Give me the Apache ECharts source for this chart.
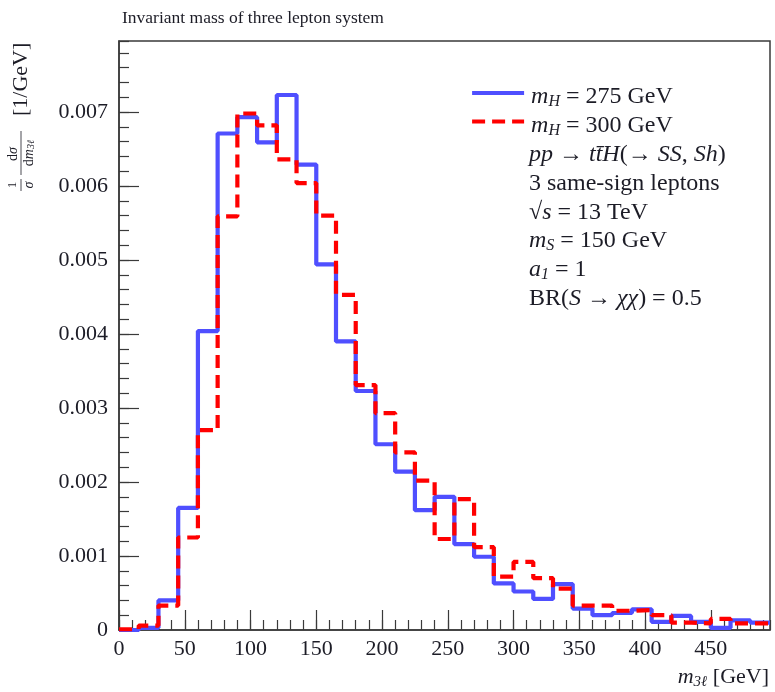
<!DOCTYPE html>
<html><head><meta charset="utf-8">
<script src="https://cdn.jsdelivr.net/npm/echarts@6/dist/echarts.min.js"></script>
<style>html,body{margin:0;padding:0;background:#fff}#c{width:775px;height:692px}</style>
</head><body><div id="c"></div>
<script>
// ---- data ----
const binEdges = [0,15,30,45,60,75,90,105,120,135,150,165,180,195,210,225,240,255,270,285,300,315,330,345,360,375,390,405,420,435,450,465,480,495];
const mH275 = [0.00000,0.00003,0.00040,0.00165,0.00404,0.00671,0.00693,0.00659,0.00723,0.00629,0.00494,0.00390,0.00323,0.00251,0.00214,0.00162,0.00180,0.00116,0.00099,0.00063,0.00052,0.00042,0.00062,0.00029,0.00020,0.00023,0.00028,0.00011,0.00019,0.00011,0.00003,0.00013,0.00010];
const mH300 = [0.00001,0.00006,0.00033,0.00125,0.00270,0.00559,0.00698,0.00682,0.00636,0.00604,0.00560,0.00453,0.00331,0.00293,0.00240,0.00202,0.00123,0.00177,0.00112,0.00072,0.00092,0.00070,0.00056,0.00033,0.00033,0.00026,0.00027,0.00020,0.00010,0.00009,0.00015,0.00009,0.00009];
const seriesNames = ['mH275','mH300'];
const xTickLabels = ['0','50','100','150','200','250','300','350','400','450'];
const yTickLabels = ['0','0.001','0.002','0.003','0.004','0.005','0.006','0.007'];
const infoLines = [
  '{i|pp} → {i|tt\u0304H}(→ {i|SS}, {i|Sh})',
  '3 same-sign leptons',
  '√{i|s} = 13 TeV',
  '{i|m}{s|S} = 150 GeV',
  '{i|a}{s|1} = 1',
  'BR({i|S} → {i|χχ}) = 0.5'
];

// ---- styling ----
const FONT = '"Liberation Serif", "DejaVu Serif", serif';
const TXT = '#1c1c26';
const AX = '#3a3a3a';
const BLUE = '#4f4fff';
const RED = '#ff0000';
const LH = 26;
const FS = 24;
function richSet(fs){
  return {
    i: {fontFamily: FONT, fontStyle: 'italic', fontSize: fs, color: TXT, lineHeight: LH},
    i0: {fontFamily: FONT, fontStyle: 'italic', fontSize: fs, color: TXT, lineHeight: LH, padding: [0,0,0,2]},
    s: {fontFamily: FONT, fontStyle: 'italic', fontSize: Math.round(fs*0.68), color: TXT, lineHeight: LH, verticalAlign: 'bottom'},
    n: {fontFamily: FONT, fontSize: fs, color: TXT, lineHeight: LH}
  };
}
function stepData(vals){
  return binEdges.map((e,i) => [e, vals[Math.min(i, vals.length-1)]]);
}
const fmtX = v => { const s = String(v); return xTickLabels.indexOf(s) >= 0 ? s : ''; };
const fmtY = v => { const s = v === 0 ? '0' : v.toFixed(3); return yTickLabels.indexOf(s) >= 0 ? s : ''; };

const chart = echarts.init(document.getElementById('c'), null, {renderer: 'canvas'});

const infoGraphics = infoLines.map((t, k) => ({
  type: 'text', left: 529, top: 142 + 28.7*k,
  style: {text: t, fontFamily: FONT, fontSize: FS, fill: TXT, lineHeight: LH, rich: richSet(FS)}
}));

// rotated y-axis title: 1/σ dσ/dm_3ℓ [1/GeV]
const fracRich = {i:{fontFamily:FONT,fontStyle:'italic',fontSize:14,color:TXT}, s:{fontFamily:FONT,fontStyle:'italic',fontSize:10,color:TXT,verticalAlign:'bottom',padding:[5,0,0,0]}};
const yTitle = {
  type: 'group', x: 21, y: 191, rotation: Math.PI/2,
  children: [
    {type:'text', x: 6, y: -8, style:{text:'1', fontFamily: FONT, fontSize: 13, fill: TXT, align:'center', verticalAlign:'middle'}},
    {type:'line', shape:{x1:0,y1:0,x2:12,y2:0}, style:{stroke: TXT, lineWidth: 0.8}},
    {type:'text', x: 6, y: 8, style:{text:'σ', fontFamily: FONT, fontStyle:'italic', fontSize: 14, fill: TXT, align:'center', verticalAlign:'middle'}},
    {type:'text', x: 37, y: -8, style:{text:'d{i|σ}', fontFamily: FONT, fontSize: 14, fill: TXT, align:'center', verticalAlign:'middle', rich: fracRich}},
    {type:'line', shape:{x1:16,y1:0,x2:60,y2:0}, style:{stroke: TXT, lineWidth: 0.8}},
    {type:'text', x: 38, y: 8, style:{text:'d{i|m}{s|3ℓ}', fontFamily: FONT, fontSize: 14, fill: TXT, align:'center', verticalAlign:'middle', rich: fracRich}},
    {type:'text', x: 75, y: 0, style:{text:'[1/GeV]', fontFamily: FONT, fontSize: 22, fill: TXT, align:'left', verticalAlign:'middle'}}
  ]
};

const option = {
  backgroundColor: '#ffffff',
  animation: false,
  title: {
    text: 'Invariant mass of three lepton system', left: 117, top: 4,
    textStyle: {fontFamily: FONT, fontSize: 17.5, fontWeight: 'normal', color: TXT}
  },
  grid: {left: 119, right: 5, top: 41, bottom: 62, show: true, borderColor: AX, borderWidth: 1.5, backgroundColor: 'transparent'},
  legend: {
    orient: 'vertical', left: 465, top: 71, itemWidth: 52, itemHeight: 14, itemGap: -5.5,
    data: seriesNames,
    itemStyle: {opacity: 0},
    lineStyle: {width: 4.2},
    formatter: name => name === 'mH275' ? '{i0|m}{s|H}{n| = 275 GeV}' : '{i0|m}{s|H}{n| = 300 GeV}',
    textStyle: {fontFamily: FONT, fontSize: FS, color: TXT, lineHeight: LH, padding: [8,0,0,0], rich: richSet(FS)}
  },
  xAxis: [
    {type: 'value', gridIndex: 0, position: 'bottom', min: 0, max: 495, interval: 50,
     axisLine: {show: true, onZero: false, lineStyle: {color: AX, width: 1.5}},
     axisTick: {show: true, inside: true, length: 20, lineStyle: {color: AX, width: 1.2}},
     axisLabel: {show: true, margin: 8, fontFamily: FONT, fontSize: 22, color: TXT, formatter: fmtX, showMaxLabel: false},
     splitLine: {show: false}},
    {type: 'value', gridIndex: 0, position: 'bottom', min: 0, max: 495, interval: 10,
     axisLine: {show: false, onZero: false},
     axisTick: {show: true, inside: true, length: 10, lineStyle: {color: AX, width: 1.2}},
     axisLabel: {show: false}, splitLine: {show: false}}
  ],
  yAxis: [
    {type: 'value', gridIndex: 0, position: 'left', min: 0, max: 0.00796, interval: 0.001,
     axisLine: {show: true, onZero: false, lineStyle: {color: AX, width: 1.5}},
     axisTick: {show: true, inside: true, length: 20, lineStyle: {color: AX, width: 1.2}},
     axisLabel: {show: true, margin: 11, fontFamily: FONT, fontSize: 22, color: TXT, formatter: fmtY, showMaxLabel: false},
     splitLine: {show: false}},
    {type: 'value', gridIndex: 0, position: 'left', min: 0, max: 0.00796, interval: 0.0002,
     axisLine: {show: false, onZero: false},
     axisTick: {show: true, inside: true, length: 10, lineStyle: {color: AX, width: 1.2}},
     axisLabel: {show: false}, splitLine: {show: false}}
  ],
  series: [
    {name: 'mH275', type: 'line', step: 'end', xAxisIndex: 0, yAxisIndex: 0, data: stepData(mH275),
     symbol: 'none', showSymbol: false, clip: true, z: 3,
     lineStyle: {color: BLUE, width: 4.2}, itemStyle: {color: BLUE}},
    {name: 'mH300', type: 'line', step: 'end', xAxisIndex: 0, yAxisIndex: 0, data: stepData(mH300),
     symbol: 'none', showSymbol: false, clip: true, z: 4,
     lineStyle: {color: RED, width: 4.2, type: [13, 7]}, itemStyle: {color: RED}}
  ],
  graphic: [
    ...infoGraphics,
    yTitle,
    {type: 'text', right: 6, top: 664,
     style: {text: '{i|m}{s|3ℓ}{n| [GeV]}', fontFamily: FONT, fontSize: 22, fill: TXT, lineHeight: LH, rich: richSet(22)}}
  ]
};
chart.setOption(option);
</script>
</body></html>
